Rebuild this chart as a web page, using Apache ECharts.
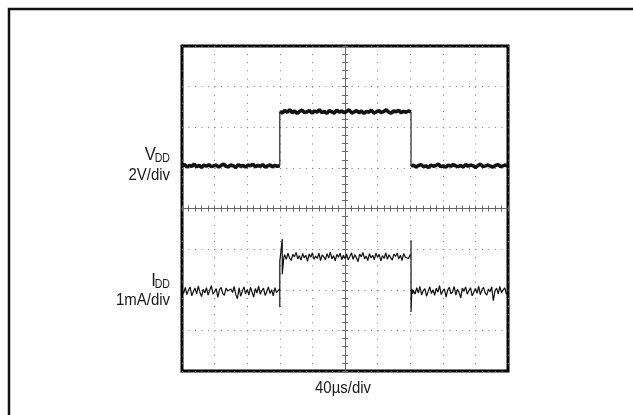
<!DOCTYPE html>
<html>
<head>
<meta charset="utf-8">
<script src="https://cdn.jsdelivr.net/npm/echarts@6/dist/echarts.min.js"></script>
<style>
  html, body { margin: 0; padding: 0; background: #fff; }
  #scope { width: 633px; height: 415px; }
</style>
</head>
<body>
<div id="scope"></div>
<script>
// time in µs (40µs/div, 10 div), y in screen divisions (-4..4)
const edgeRise = -80
const edgeFall = 81

// VDD trace, 2V/div
const vddLowA = [1.05, 1.08, 1.02, 1.06, 1.04, 1.09, 1.03, 1.06, 1.01, 1.07,
  1.04, 1.08, 1.03, 1.05, 1.07, 1.02, 1.06, 1.09, 1.04, 1.03,
  1.07, 1.05, 1.01, 1.08, 1.04, 1.06, 1.02, 1.07, 1.05, 1.09,
  1.03, 1.06, 1.04, 1.08, 1.02, 1.05, 1.07, 1.03, 1.06, 1.04, 1.05]
const vddHigh = [2.39, 2.35, 2.41, 2.37, 2.43, 2.36, 2.40, 2.34, 2.39, 2.42,
  2.36, 2.38, 2.41, 2.35, 2.40, 2.37, 2.43, 2.36, 2.39, 2.34,
  2.41, 2.38, 2.35, 2.42, 2.37, 2.40, 2.36, 2.39, 2.43, 2.35,
  2.38, 2.41, 2.36, 2.40, 2.34, 2.39, 2.37, 2.42, 2.35, 2.38,
  2.41, 2.36, 2.39, 2.43, 2.37, 2.35, 2.40, 2.38, 2.42, 2.36,
  2.39, 2.37, 2.40, 2.38]
const vddLowB = [1.04, 1.07, 1.02, 1.06, 1.08, 1.03, 1.05, 1.01, 1.07, 1.04,
  1.06, 1.09, 1.03, 1.05, 1.02, 1.07, 1.04, 1.08, 1.05, 1.03,
  1.06, 1.02, 1.08, 1.04, 1.07, 1.05, 1.01, 1.06, 1.09, 1.03,
  1.05, 1.07, 1.04, 1.02, 1.06, 1.08, 1.03, 1.05, 1.07, 1.04]

// IDD trace, 1mA/div
const iddLowA = [-1.98, -2.09, -1.94, -2.12, -2.01, -1.93, -2.15, -2.04, -1.96, -2.10,
  -1.91, -2.06, -2.17, -1.99, -2.08, -1.95, -2.13, -2.02, -1.90, -2.11,
  -2.05, -1.97, -2.19, -2.00, -1.94, -2.09, -2.14, -1.96, -2.03, -2.06,
  -1.98, -2.07, -1.92, -2.12, -2.22, -1.95, -2.16, -2.04, -1.93, -2.10,
  -1.99, -2.13, -1.94, -2.06, -2.18, -1.97, -2.08, -1.91, -2.11, -2.02,
  -1.96, -2.14, -2.05, -1.93, -2.09, -2.00, -2.15, -1.95, -2.07, -2.10, -1.97]
const iddRise = [[-80, -2.43], [-80, -1.30], [-77, -0.75], [-77, -1.62], [-75, -1.20]]
const iddHigh = [-1.14, -1.25, -1.10, -1.22, -1.28, -1.13, -1.19, -1.08, -1.24, -1.16,
  -1.27, -1.11, -1.21, -1.15, -1.30, -1.12, -1.20, -1.09, -1.25, -1.17,
  -1.23, -1.10, -1.28, -1.14, -1.19, -1.26, -1.11, -1.22, -1.07, -1.24,
  -1.16, -1.29, -1.13, -1.20, -1.10, -1.26, -1.15, -1.23, -1.12, -1.27,
  -1.18, -1.09, -1.25, -1.14, -1.21, -1.31, -1.12, -1.19, -1.08, -1.24,
  -1.17, -1.28, -1.11, -1.22, -1.15, -1.26, -1.10, -1.20, -1.13, -1.29,
  -1.16, -1.23, -1.09, -1.25, -1.14, -1.21, -1.27, -1.12, -1.18, -1.10,
  -1.24, -1.15, -1.28, -1.11, -1.20, -1.16, -1.23, -1.13]
const iddFall = [[81, -1.20], [81, -0.78], [81, -2.55], [82, -1.98], [83, -2.10]]
const iddLowB = [-2.01, -2.11, -1.95, -2.08, -1.92, -2.13, -2.02, -1.97, -2.16, -2.04,
  -1.93, -2.09, -2.00, -2.14, -1.96, -2.06, -1.90, -2.12, -2.03, -1.98,
  -2.18, -2.01, -1.94, -2.10, -2.05, -1.92, -2.13, -1.99, -2.07, -2.20,
  -1.96, -2.04, -1.93, -2.11, -2.02, -1.95, -2.15, -2.06, -1.97, -2.09,
  -1.91, -2.12, -2.00, -1.94, -2.08, -2.13, -1.98, -2.05, -1.93, -2.27,
  -2.03, -1.96, -2.10, -1.92, -2.07, -2.01, -1.95, -2.11, -2.04]

// spread the samples of one flat piece evenly between two times
function segment (values, t0, t1) {
  return values.map((v, i) => [t0 + i * (t1 - t0) / (values.length - 1), v])
}

// thick flat parts of VDD, broken at the edges
const vddFlat = [].concat(
  segment(vddLowA, -200, edgeRise), [[edgeRise, null]],
  segment(vddHigh, edgeRise, edgeFall), [[edgeFall, null]],
  segment(vddLowB, edgeFall, 200)
)
// thin switching edges of VDD
const vddEdges = [
  [edgeRise, vddLowA[vddLowA.length - 1]], [edgeRise, vddHigh[0]], [edgeRise, null],
  [edgeFall, vddHigh[vddHigh.length - 1]], [edgeFall, vddLowB[0]]
]
const iddData = [].concat(
  segment(iddLowA, -200, edgeRise),
  iddRise,
  segment(iddHigh, -74, 80),
  iddFall,
  segment(iddLowB, 84, 200)
)

const font = '"Liberation Sans", Arial, sans-serif'
const textColor = '#1a1a1a'
const gridColor = '#7a7a7a'
const centreColor = '#666'

// the two cross-hair axes through the centre of the screen
function centreAxis (extra) {
  return Object.assign({
    type: 'value',
    gridIndex: 0,
    axisLabel: { show: false },
    splitLine: { show: false },
    axisLine: { show: true, onZero: true, onZeroAxisIndex: 0, lineStyle: { color: centreColor, width: 1 } },
    axisTick: { show: true, length: 3, lineStyle: { color: centreColor, width: 1 } },
    minorTick: { show: true, splitNumber: 5, length: 3, lineStyle: { color: centreColor, width: 1 } }
  }, extra)
}

// condensed label, anchored at (x, y)
function label (text, x, y, size, align) {
  return {
    type: 'text',
    x: x,
    y: y,
    scaleX: 0.88,
    style: {
      text: text,
      x: 0,
      y: 0,
      align: align || 'right',
      verticalAlign: 'middle',
      font: size + 'px ' + font,
      fill: textColor
    }
  }
}

let chart = echarts.init(document.getElementById('scope'))
chart.setOption({
  animation: false,
  grid: {
    left: 182,
    top: 46,
    width: 326,
    height: 325,
    show: true,
    borderColor: '#000',
    borderWidth: 3
  },
  xAxis: [
    { // main time axis, only its dotted division lines show
      type: 'value',
      min: -200,
      max: 200,
      interval: 40,
      axisLine: { show: false, onZero: false },
      axisTick: { show: false },
      axisLabel: { show: false },
      splitLine: { show: true, lineStyle: { color: gridColor, width: 1, type: [1, 7.125] } }
    },
    centreAxis({ min: -200, max: 200, interval: 40, position: 'bottom' }),
    centreAxis({ min: -200, max: 200, interval: 40, position: 'top' })
  ],
  yAxis: [
    { // main division axis
      type: 'value',
      min: -4,
      max: 4,
      interval: 1,
      axisLine: { show: false, onZero: false },
      axisTick: { show: false },
      axisLabel: { show: false },
      splitLine: { show: true, lineStyle: { color: gridColor, width: 1, type: [1, 5.52] } }
    },
    centreAxis({ min: -4, max: 4, interval: 1, position: 'left' }),
    centreAxis({ min: -4, max: 4, interval: 1, position: 'right' })
  ],
  series: [
    {
      name: 'VDD',
      type: 'line',
      data: vddFlat,
      showSymbol: false,
      lineStyle: { color: '#111', width: 3.6 },
      z: 5
    },
    {
      name: 'VDD edges',
      type: 'line',
      data: vddEdges,
      showSymbol: false,
      lineStyle: { color: '#222', width: 1.2 },
      z: 5
    },
    {
      name: 'IDD',
      type: 'line',
      data: iddData,
      showSymbol: false,
      lineStyle: { color: '#111', width: 1.2 },
      z: 5
    }
  ],
  graphic: [
    { // outer frame, only top and left edges are in view
      type: 'rect',
      shape: { x: 9, y: 9, width: 700, height: 500 },
      style: { fill: 'none', stroke: '#111', lineWidth: 2.5 }
    },
    label('V', 156, 155, 19),
    label('DD', 170, 158.5, 12),
    label('2V/div', 170, 175, 17),
    label('I', 156, 281, 19),
    label('DD', 170, 284.5, 12),
    label('1mA/div', 170, 300, 17),
    label('40µs/div', 343, 388, 17, 'center')
  ]
})
</script>
</body>
</html>
